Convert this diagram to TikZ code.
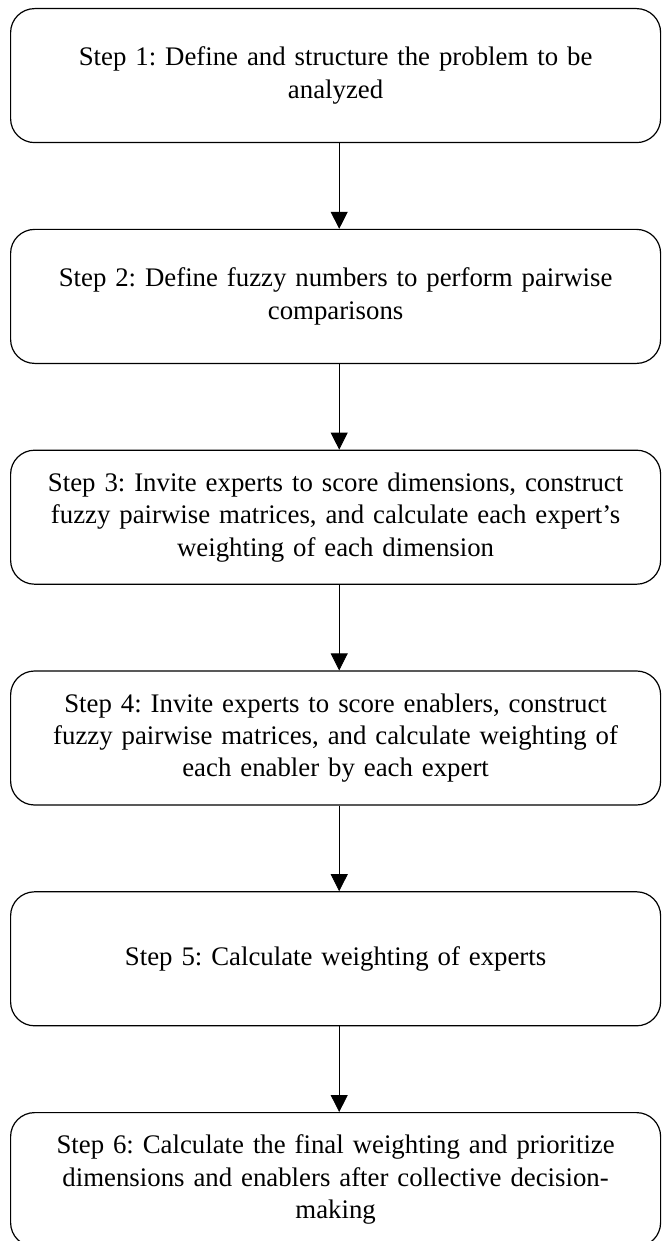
\documentclass[tikz,border=0pt]{standalone}
\usepackage{fontspec}
\setmainfont{Liberation Serif}
\usetikzlibrary{positioning,arrows.meta}

\tikzset{
  stepbox/.style={draw,line width=0.6pt,rounded corners=12pt,minimum width=325pt,
    minimum height=67pt,text width=315pt,align=center,inner sep=0pt,
    font=\fontsize{13.4}{16.2}\selectfont\frenchspacing},
  flow/.style={-{Triangle[length=8.5pt,width=8.5pt]},line width=0.4pt}
}

\begin{document}
\begin{tikzpicture}[node distance=42.8pt]
    \useasboundingbox (0,0) rectangle (331pt,-620.5pt);
    \node[stepbox,anchor=north west] (s1) at (5pt,-4pt) {Step 1: Define and structure the problem to be\\analyzed};
    \node[stepbox,below=of s1] (s2) {Step 2: Define fuzzy numbers to perform pairwise\\comparisons};
    \node[stepbox,below=of s2] (s3) {Step 3: Invite experts to score dimensions, construct\\fuzzy pairwise matrices, and calculate each expert’s\\weighting of each dimension};
    \node[stepbox,below=of s3] (s4) {Step 4: Invite experts to score enablers, construct\\fuzzy pairwise matrices, and calculate weighting of\\each enabler by each expert};
    \node[stepbox,below=of s4] (s5) {Step 5: Calculate weighting of experts};
    \node[stepbox,below=of s5] (s6) {Step 6: Calculate the final weighting and prioritize\\dimensions and enablers after collective decision-\\making};
    % arrows sit a little right of centre
    \draw[flow] ([xshift=1.8pt]s1.south) -- ([xshift=1.8pt]s2.north);
    \draw[flow] ([xshift=1.8pt]s2.south) -- ([xshift=1.8pt]s3.north);
    \draw[flow] ([xshift=1.8pt]s3.south) -- ([xshift=1.8pt]s4.north);
    \draw[flow] ([xshift=1.8pt]s4.south) -- ([xshift=1.8pt]s5.north);
    \draw[flow] ([xshift=1.8pt]s5.south) -- ([xshift=1.8pt]s6.north);
  \end{tikzpicture}
\end{document}
